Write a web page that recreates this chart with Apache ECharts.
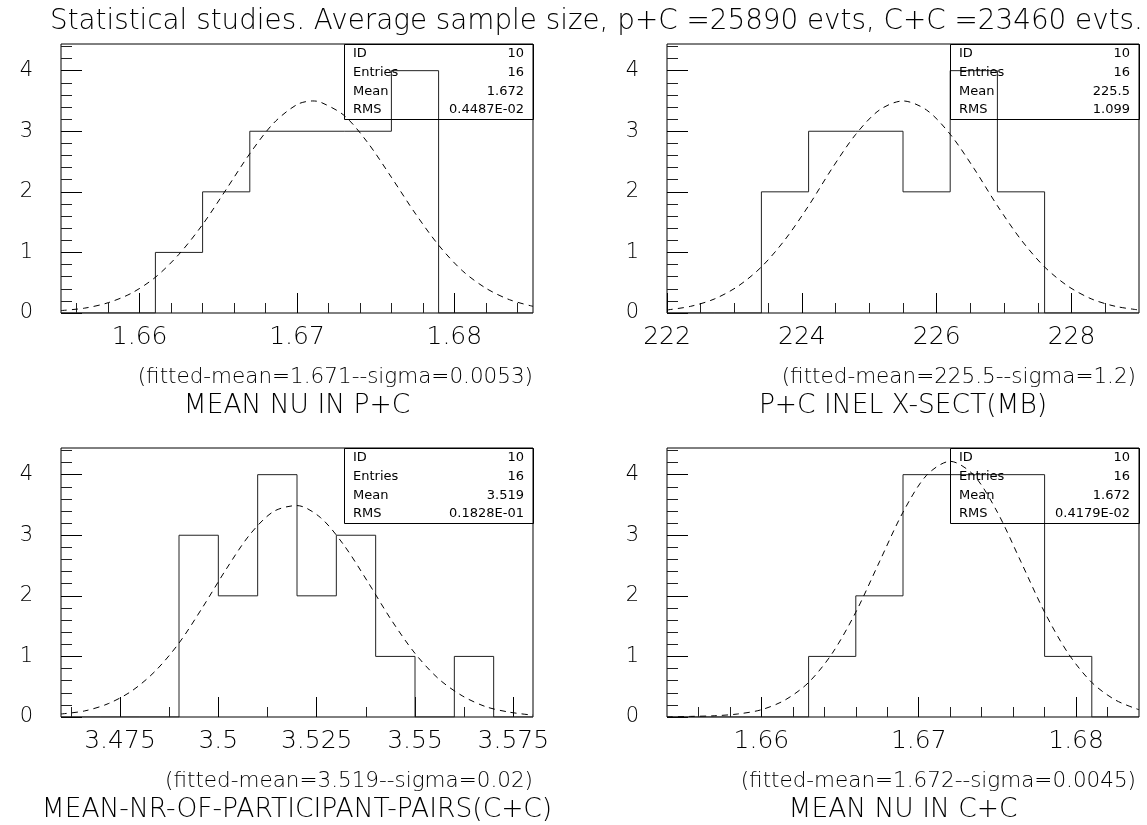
<!DOCTYPE html>
<html><head><meta charset="utf-8">
<script src="https://cdn.jsdelivr.net/npm/echarts@6/dist/echarts.min.js"></script>
<style>html,body{margin:0;padding:0;background:#fff}#c{width:1147px;height:825px}</style>
</head><body><div id="c"></div>
<script>
// ---------------- DATA ----------------
const mainTitle = 'Statistical studies. Average sample size, p+C =25890 evts, C+C =23460 evts.';
const statNames = ['ID', 'Entries', 'Mean', 'RMS'];

const yMajorTicks = [0, 1, 2, 3, 4];
const yTickLabels = ['0', '1', '2', '3', '4'];
const yMinorTicks = [0.2,0.4,0.6,0.8,1.2,1.4,1.6,1.8,2.2,2.4,2.6,2.8,3.2,3.4,3.6,3.8,4.2,4.4];
const yMax = 4.44;

// Panel 1 : MEAN NU IN P+C
const p1Range = [1.655, 1.685];
const p1Edges = [1.655,1.658,1.661,1.664,1.667,1.670,1.673,1.676,1.679,1.682,1.685];
const p1Counts = [0,0,1,2,3,3,3,4,0,0];
const p1FitX = [1.655,1.6565,1.658,1.6595,1.661,1.6625,1.664,1.6655,1.667,1.6685,1.670,1.671,1.6715,1.673,1.6745,1.676,1.6775,1.679,1.6805,1.682,1.6835,1.685];
const p1FitY = [0.04,0.08,0.17,0.33,0.59,0.97,1.46,2.04,2.63,3.13,3.44,3.50,3.48,3.26,2.81,2.24,1.65,1.12,0.70,0.41,0.22,0.11];
const p1XMajor = [1.66, 1.67, 1.68];
const p1XLabels = ['1.66', '1.67', '1.68'];
const p1XMinor = [1.656,1.658,1.662,1.664,1.666,1.668,1.672,1.674,1.676,1.678,1.682,1.684];
const p1Caption = '(fitted-mean=1.671--sigma=0.0053)';
const p1Name = 'MEAN NU IN P+C';
const p1Stats = ['10', '16', '1.672', '0.4487E-02'];

// Panel 2 : P+C INEL X-SECT(MB)
const p2Range = [222, 229];
const p2Edges = [222,222.7,223.4,224.1,224.8,225.5,226.2,226.9,227.6,228.3,229];
const p2Counts = [0,0,2,3,3,2,4,2,0,0];
const p2FitX = [222,222.35,222.7,223.05,223.4,223.75,224.1,224.45,224.8,225.15,225.5,225.85,226.2,226.55,226.9,227.25,227.6,227.95,228.3,228.65,229];
const p2FitY = [0.05,0.11,0.23,0.44,0.76,1.21,1.77,2.39,2.95,3.35,3.50,3.35,2.95,2.39,1.77,1.21,0.76,0.44,0.23,0.11,0.05];
const p2XMajor = [222, 224, 226, 228];
const p2XLabels = ['222', '224', '226', '228'];
const p2XMinor = [222.5,223,223.5,224.5,225,225.5,226.5,227,227.5,228.5];
const p2Caption = '(fitted-mean=225.5--sigma=1.2)';
const p2Name = 'P+C INEL X-SECT(MB)';
const p2Stats = ['10', '16', '225.5', '1.099'];

// Panel 3 : MEAN-NR-OF-PARTICIPANT-PAIRS(C+C)
const p3Range = [3.46, 3.58];
const p3Edges = [3.46,3.47,3.48,3.49,3.50,3.51,3.52,3.53,3.54,3.55,3.56,3.57,3.58];
const p3Counts = [0,0,0,3,2,4,2,3,1,0,1,0];
const p3FitX = [3.46,3.466,3.472,3.478,3.484,3.490,3.496,3.502,3.508,3.514,3.520,3.526,3.532,3.538,3.544,3.550,3.556,3.562,3.568,3.574,3.580];
const p3FitY = [0.05,0.10,0.22,0.43,0.76,1.22,1.81,2.44,3.01,3.39,3.49,3.29,2.83,2.23,1.60,1.05,0.63,0.35,0.17,0.08,0.03];
const p3XMajor = [3.475, 3.5, 3.525, 3.55, 3.575];
const p3XLabels = ['3.475', '3.5', '3.525', '3.55', '3.575'];
const p3XMinor = [3.4625,3.4875,3.5125,3.5375,3.5625];
const p3Caption = '(fitted-mean=3.519--sigma=0.02)';
const p3Name = 'MEAN-NR-OF-PARTICIPANT-PAIRS(C+C)';
const p3Stats = ['10', '16', '3.519', '0.1828E-01'];

// Panel 4 : MEAN NU IN C+C
const p4Range = [1.654, 1.684];
const p4Edges = [1.654,1.657,1.660,1.663,1.666,1.669,1.672,1.675,1.678,1.681,1.684];
const p4Counts = [0,0,0,1,2,4,4,4,1,0];
const p4FitX = [1.654,1.6555,1.657,1.6585,1.660,1.6615,1.663,1.6645,1.666,1.6675,1.669,1.6705,1.672,1.6735,1.675,1.6765,1.678,1.6795,1.681,1.6825,1.684];
const p4FitY = [0.00,0.01,0.02,0.05,0.12,0.28,0.57,1.05,1.73,2.56,3.38,3.99,4.22,3.99,3.38,2.56,1.73,1.05,0.57,0.28,0.12];
const p4XMajor = [1.66, 1.67, 1.68];
const p4XLabels = ['1.66', '1.67', '1.68'];
const p4XMinor = [1.656,1.658,1.662,1.664,1.666,1.668,1.672,1.674,1.676,1.678,1.682];
const p4Caption = '(fitted-mean=1.672--sigma=0.0045)';
const p4Name = 'MEAN NU IN C+C';
const p4Stats = ['10', '16', '1.672', '0.4179E-02'];

// ---------------- LAYOUT / BUILD ----------------
const FONT = "'DejaVu Sans', sans-serif";
const FW = 200;
const W = 1147;
const panels = [
  {range:p1Range, edges:p1Edges, counts:p1Counts, fx:p1FitX, fy:p1FitY, maj:p1XMajor, lab:p1XLabels, min:p1XMinor, cap:p1Caption, name:p1Name, stats:p1Stats,
   left:61, top:44, width:472, height:269, capRight:533},
  {range:p2Range, edges:p2Edges, counts:p2Counts, fx:p2FitX, fy:p2FitY, maj:p2XMajor, lab:p2XLabels, min:p2XMinor, cap:p2Caption, name:p2Name, stats:p2Stats,
   left:667, top:44, width:472, height:269, capRight:1136},
  {range:p3Range, edges:p3Edges, counts:p3Counts, fx:p3FitX, fy:p3FitY, maj:p3XMajor, lab:p3XLabels, min:p3XMinor, cap:p3Caption, name:p3Name, stats:p3Stats,
   left:61, top:448, width:472, height:269, capRight:533},
  {range:p4Range, edges:p4Edges, counts:p4Counts, fx:p4FitX, fy:p4FitY, maj:p4XMajor, lab:p4XLabels, min:p4XMinor, cap:p4Caption, name:p4Name, stats:p4Stats,
   left:667, top:448, width:472, height:269, capRight:1136}
];

function labelFor(values, labels) {
  return function (v) {
    let best = 0, d = Infinity;
    values.forEach((x, i) => { const e = Math.abs(x - v); if (e < d) { d = e; best = i; } });
    return labels[best];
  };
}

const grid = [], xAxis = [], yAxis = [], series = [], title = [], graphic = [];

title.push({text: mainTitle, left: 50, top: 8, padding: 0,
  textStyle: {fontFamily: FONT, fontSize: 27.8, fontWeight: FW, color: '#000', lineHeight: 28}});

panels.forEach((p, i) => {
  grid.push({left: p.left, top: p.top, width: p.width, height: p.height, show: true,
    borderColor: '#000', borderWidth: 1, backgroundColor: 'transparent', containLabel: false, outerBoundsMode: 'none'});
  // major x axis
  xAxis.push({type: 'value', gridIndex: i, min: p.range[0], max: p.range[1], position: 'bottom',
    axisLine: {show: false}, splitLine: {show: false},
    axisTick: {show: true, inside: true, length: 20, customValues: p.maj, lineStyle: {color: '#000', width: 1}},
    axisLabel: {show: true, customValues: p.maj, formatter: labelFor(p.maj, p.lab), margin: 12,
      fontFamily: FONT, fontWeight: FW, fontSize: 25, color: '#000', hideOverlap: false}});
  // minor x axis
  xAxis.push({type: 'value', gridIndex: i, min: p.range[0], max: p.range[1], position: 'bottom',
    axisLine: {show: false}, splitLine: {show: false},
    axisTick: {show: true, inside: true, length: 10, customValues: p.min, lineStyle: {color: '#222', width: 1}},
    axisLabel: {show: false}});
  // major y axis
  yAxis.push({type: 'value', gridIndex: i, min: 0, max: yMax, position: 'left',
    axisLine: {show: false}, splitLine: {show: false},
    axisTick: {show: true, inside: true, length: 21, customValues: yMajorTicks, lineStyle: {color: '#000', width: 1}},
    axisLabel: {show: true, customValues: yMajorTicks, formatter: labelFor(yMajorTicks, yTickLabels), margin: 28,
      fontFamily: FONT, fontWeight: FW, fontSize: 21, color: '#000', hideOverlap: false}});
  // minor y axis
  yAxis.push({type: 'value', gridIndex: i, min: 0, max: yMax, position: 'left',
    axisLine: {show: false}, splitLine: {show: false},
    axisTick: {show: true, inside: true, length: 11, customValues: yMinorTicks, lineStyle: {color: '#222', width: 1}},
    axisLabel: {show: false}});

  // histogram outline built from edges & counts
  const outline = [];
  for (let k = 0; k < p.counts.length; k++) {
    outline.push([p.edges[k], p.counts[k]]);
    outline.push([p.edges[k + 1], p.counts[k]]);
  }
  outline.unshift([p.edges[0], 0]);
  outline.push([p.edges[p.edges.length - 1], 0]);
  series.push({type: 'line', xAxisIndex: 2 * i, yAxisIndex: 2 * i, data: outline, symbol: 'none',
    lineStyle: {color: '#222', width: 1}, silent: true, animation: false, z: 3, clip: true});
  series.push({type: 'line', xAxisIndex: 2 * i, yAxisIndex: 2 * i, data: p.fx.map((x, k) => [x, p.fy[k]]),
    symbol: 'none', smooth: 0.3, lineStyle: {color: '#000', width: 1, type: [6, 5]}, silent: true, animation: false, z: 4, clip: true});

  // captions
  const bottom = p.top + p.height;
  title.push({text: p.cap, right: W - p.capRight, top: bottom + 53, padding: 0,
    textStyle: {fontFamily: FONT, fontSize: 21.5, fontWeight: FW, color: '#000', lineHeight: 22}});
  title.push({text: p.name, left: p.left + p.width / 2, textAlign: 'center', top: bottom + 80, padding: 0,
    textStyle: {fontFamily: FONT, fontSize: 26.5, fontWeight: FW, color: '#000', lineHeight: 27}});

  // stats box
  const bw = 189, bh = 75, bx = p.left + p.width - bw, by = p.top;
  graphic.push({type: 'rect', shape: {x: bx + 0.5, y: by + 0.5, width: bw, height: bh}, style: {fill: 'none', stroke: '#000', lineWidth: 1}, z: 10});
  statNames.forEach((nm, r) => {
    const cy = by + 10 + r * 18.7;
    title.push({text: nm, left: bx + 9, top: cy - 7, padding: 0,
      textStyle: {fontFamily: FONT, fontSize: 13, fontWeight: 'normal', color: '#000', lineHeight: 14}});
    title.push({text: p.stats[r], right: W - (bx + bw - 9), top: cy - 7, padding: 0,
      textStyle: {fontFamily: FONT, fontSize: 13, fontWeight: 'normal', color: '#000', lineHeight: 14}});
  });
});

const chart = echarts.init(document.getElementById('c'), null, {renderer: 'canvas'});
chart.setOption({animation: false, backgroundColor: '#fff', title, grid, xAxis, yAxis, series, graphic});
</script></body></html>
